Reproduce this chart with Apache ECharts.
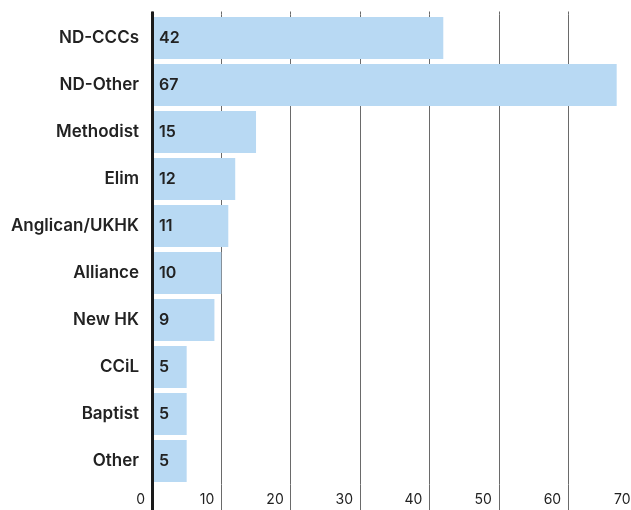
<!DOCTYPE html>
<html>
<head>
<meta charset="utf-8">
<script src="https://cdn.jsdelivr.net/npm/echarts@6/dist/echarts.min.js"></script>
<style>
  html, body { margin: 0; padding: 0; background: #ffffff; }
  #chart { width: 631px; height: 510px; }
</style>
</head>
<body>
<div id="chart"></div>
<script>
const categories = ["ND-CCCs", "ND-Other", "Methodist", "Elim", "Anglican/UKHK", "Alliance", "New HK", "CCiL", "Baptist", "Other"];
const values = [42, 67, 15, 12, 11, 10, 9, 5, 5, 5];
const axisMin = 0;
const axisMax = 70;
const axisStep = 10;

const FONT = 'Inter, "Open Sans", sans-serif';
const chart = echarts.init(document.getElementById('chart'), null, { renderer: 'canvas' });

function valueAxis(extra) {
  return Object.assign({
    type: 'value', min: axisMin, max: axisMax, interval: axisStep,
    axisLine: { show: false },
    axisLabel: { show: false },
    splitLine: { show: false },
    axisTick: { show: false }
  }, extra);
}

chart.setOption({
  animation: false,
  backgroundColor: '#ffffff',
  grid: { left: 152, width: 485.5, top: 14.5, bottom: 25.5, containLabel: false, outerBoundsMode: 'none' },
  xAxis: [
    valueAxis({
      position: 'bottom',
      axisTick: { show: true, length: 26, lineStyle: { color: '#6a6a6a', width: 1 } },
      splitLine: { show: true, lineStyle: { color: '#6a6a6a', width: 1 } },
      axisLabel: {
        show: true, margin: 8, align: 'right', padding: [0, 7, 0, 0],
        fontFamily: FONT, fontSize: 14, color: '#222222'
      }
    }),
    valueAxis({
      position: 'top',
      axisTick: { show: true, length: 3, lineStyle: { color: '#6a6a6a', width: 1 } }
    }),
    valueAxis({
      position: 'bottom', interval: axisMax,
      axisTick: { show: true, length: 26, lineStyle: { color: '#1a1a1a', width: 3 } }
    }),
    valueAxis({
      position: 'top', interval: axisMax,
      axisTick: { show: true, length: 3, lineStyle: { color: '#1a1a1a', width: 3 } }
    })
  ],
  yAxis: {
    type: 'category',
    data: categories,
    inverse: true,
    axisLine: { show: true, lineStyle: { color: '#1a1a1a', width: 3 } },
    axisTick: { show: false },
    axisLabel: {
      margin: 13, fontFamily: FONT, fontSize: 17, fontWeight: 600, color: '#222222'
    },
    z: 5
  },
  series: [{
    type: 'bar',
    xAxisIndex: 0,
    data: values,
    barCategoryGap: '10.6%',
    itemStyle: { color: '#b8d9f3' },
    label: {
      show: true, position: 'insideLeft', offset: [2, 0],
      fontFamily: FONT, fontSize: 16, fontWeight: 600, color: '#222222'
    },
    z: 2
  }]
});
</script>
</body>
</html>
